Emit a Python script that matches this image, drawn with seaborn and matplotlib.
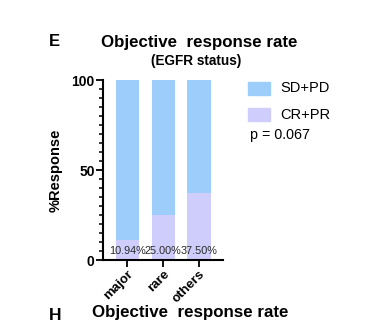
import matplotlib
matplotlib.use("Agg")
import matplotlib.pyplot as plt
from matplotlib.ticker import MultipleLocator
from matplotlib.patches import Rectangle
import seaborn as sns
import pandas as pd

groups = ["major", "rare", "others"]
cr_pr = [10.94, 25.00, 37.50]
sd_pd = [100 - v for v in cr_pr]
series_names = ["SD+PD", "CR+PR"]
p_text = "p = 0.067"

sns.set_style("ticks")
plt.rcParams["font.family"] = ["Liberation Sans", "DejaVu Sans"]
plt.rcParams["text.color"] = "black"
plt.rcParams["axes.labelcolor"] = "black"
plt.rcParams["xtick.color"] = "black"
plt.rcParams["ytick.color"] = "black"
plt.rcParams["axes.edgecolor"] = "black"

blue = "#9dcdfb"
lilac = "#cfcdfb"

df = pd.DataFrame({"group": groups, "cr_pr": cr_pr,
                   "total": [a + b for a, b in zip(cr_pr, sd_pd)]})

fig = plt.figure(figsize=(3.68, 3.29), dpi=100)
ax = fig.add_axes([0.280, 0.2097, 0.326, 0.547])

sns.barplot(data=df, x="group", y="total", color=blue, width=0.64,
            saturation=1, ax=ax, linewidth=0)
sns.barplot(data=df, x="group", y="cr_pr", color=lilac, width=0.64,
            saturation=1, ax=ax, linewidth=0)

for i, v in enumerate(cr_pr):
    ax.text(i, 5, f"{v:.2f}%", ha="center", va="center",
            fontsize=7.8, color="#2a2a2a")

ax.set_xlim(-0.667, 2.667)
ax.set_ylim(0, 100)
ax.yaxis.set_major_locator(MultipleLocator(50))
ax.yaxis.set_minor_locator(MultipleLocator(5))
ax.set_xlabel("")
ax.set_ylabel("%Response", fontsize=10.5, fontweight="bold", labelpad=6)
ax.tick_params(axis="both", which="major", length=5, width=1.3,
               labelsize=10, pad=1)
ax.tick_params(axis="y", which="minor", length=3, width=1.1)
ax.set_xticks(range(len(groups)))
ax.set_xticklabels(groups, rotation=45, ha="right", rotation_mode="anchor",
                   fontweight="bold", fontsize=9.5)
for lab in ax.get_yticklabels():
    lab.set_fontweight("bold")
for s in ["top", "right"]:
    ax.spines[s].set_visible(False)
for s in ["left", "bottom"]:
    ax.spines[s].set_linewidth(1.5)

# legend drawn as patches beside the axes
for name, col, yy in [(series_names[0], blue, 88), (series_names[1], lilac, 115)]:
    fig.patches.append(Rectangle((248 / 368, 1 - (yy + 6.5) / 329), 22 / 368, 13 / 329,
                                 transform=fig.transFigure, color=col, zorder=3))
    fig.text(280 / 368, 1 - yy / 329, name, fontsize=10.5, va="center", ha="left")
fig.text(250 / 368, 1 - 135 / 329, p_text, fontsize=10.3, va="center", ha="left")

fig.text(199 / 368, 1 - 42 / 329, "Objective  response rate", fontsize=12.2,
         fontweight="bold", ha="center", va="center")
fig.text(196 / 368, 1 - 61 / 329, "(EGFR status)", fontsize=9.8,
         fontweight="bold", ha="center", va="center")
fig.text(54 / 368, 1 - 42 / 329, "E", fontsize=12, fontweight="bold",
         ha="center", va="center")
fig.text(55 / 368, 1 - 315 / 329, "H", fontsize=12.5, fontweight="bold",
         ha="center", va="center")
fig.text(190 / 368, 1 - 313 / 329, "Objective  response rate", fontsize=12.2,
         fontweight="bold", ha="center", va="center")

fig.savefig("out.png", dpi=100)
